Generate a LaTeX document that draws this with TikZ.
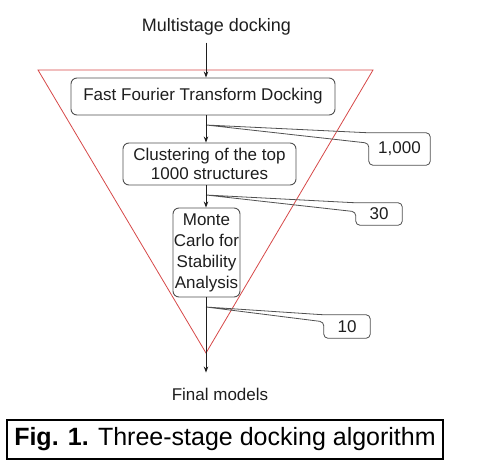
\documentclass[tikz,border=0pt]{standalone}
\usepackage{fontspec}
\setmainfont{Liberation Sans}
\usetikzlibrary{arrows.meta,calc}
\definecolor{tri}{RGB}{214,72,72}
\definecolor{bx}{RGB}{80,80,80}
\definecolor{ink}{RGB}{30,30,30}
\begin{document}
\begin{tikzpicture}[x=1pt,y=-1pt,
  every node/.style={font=\fontsize{17}{21}\selectfont, inner sep=0pt, text=ink},
  box/.style={draw=bx, line width=0.9pt, rounded corners=6pt, align=center},
  arr/.style={draw=ink, line width=0.9pt, -{Stealth[length=6pt,width=4.5pt]}},
  callout/.style={draw=bx, line width=0.8pt, rounded corners=4pt},
  triline/.style={draw=tri, line width=0.8pt}]
\useasboundingbox (0,0) rectangle (484,474);
% red funnel
\draw[triline] (38,70) -- (373,70) -- (206,353) -- cycle;
% spine coordinates
\coordinate (t1) at (206,125);
\coordinate (t2) at (206,195);
\coordinate (t3) at (206,307);
% nodes
\node[font=\fontsize{18}{21}\selectfont] (ms) at (216.5,27) {Multistage docking};
\node[box, minimum width=264pt, minimum height=37pt] (fft) at (203,96.5) {Fast Fourier Transform Docking};
\node[box, minimum width=173pt, minimum height=42pt, font=\fontsize{17}{19.5}\selectfont] (cl) at (209.5,164) {Clustering of the top\\1000 structures};
\node[box, minimum width=67pt, minimum height=89pt, font=\fontsize{17}{21}\selectfont] (mc) at (206.5,252.5) {Monte\\Carlo for\\Stability\\Analysis};
\node (fm) at (220,394) {Final models};
% callouts
\node[minimum width=61pt, minimum height=32pt] (c1) at (399.5,149) {1,000};
\node[minimum width=46pt, minimum height=22pt] (c2) at (379,214) {30};
\node[minimum width=46pt, minimum height=23pt] (c3) at (347,326.5) {10};
\draw[callout] (t1) -- (c1.north west) -- (c1.north east) -- (c1.south east) -- (c1.south west) -- ($(c1.north west)!0.32!(c1.south west)$) -- (t1);
\draw[callout] (t2) -- (c2.north west) -- (c2.north east) -- (c2.south east) -- (c2.south west) -- ($(c2.north west)!0.4!(c2.south west)$) -- (t2);
\draw[callout] (t3) -- (c3.north west) -- (c3.north east) -- (c3.south east) -- (c3.south west) -- ($(c3.north west)!0.3!(c3.south west)$) -- (t3);
% arrows
\draw[arr, shorten <=7pt] (ms.south -| t1) -- (fft.north -| t1);
\draw[arr] (fft.south -| t1) -- (cl.north -| t1);
\draw[arr] (cl.south -| t1) -- (mc.north -| t1);
\draw[arr, shorten >=15pt] (mc.south -| t1) -- (fm.north -| t1);
% caption
\node[draw=black, line width=2pt, minimum width=436pt, minimum height=39pt, text=black, font=\fontsize{25}{30}\selectfont] (cap) at (225,439.5) {\textbf{Fig. 1.} Three-stage docking algorithm};
\end{tikzpicture}
\end{document}
